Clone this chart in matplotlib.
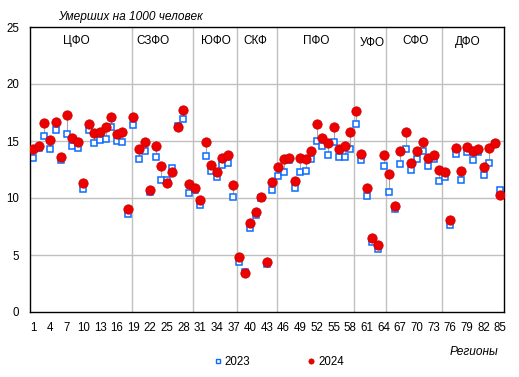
import matplotlib
matplotlib.use("Agg")
import matplotlib.pyplot as plt
from matplotlib.lines import Line2D
import numpy as np

plt.rcParams['font.family'] = ['Liberation Sans', 'DejaVu Sans']

regions = list(range(1, 86))
v2023 = [13.5, 14.4, 15.4, 14.3, 16.0, 13.3, 15.6, 14.6, 14.4, 10.8,
         16.0, 14.8, 15.1, 15.2, 16.2, 15.0, 14.9, 8.6, 16.4, 13.4,
         14.1, 10.5, 13.6, 11.6, 11.55, 12.6, 16.3, 16.9, 10.4, 10.7,
         9.4, 13.7, 12.4, 11.8, 12.9, 13.1, 10.1, 4.4, 3.5, 7.4,
         8.5, 10.0, 4.25, 10.7, 11.9, 12.3, 13.3, 10.85, 12.3, 12.4,
         13.4, 15.0, 14.55, 13.8, 14.9, 13.6, 13.6, 14.3, 16.5, 13.3,
         10.2, 6.1, 5.5, 12.8, 10.55, 9.0, 13.0, 14.3, 12.45, 13.4,
         14.1, 12.8, 13.4, 11.5, 11.8, 7.6, 13.9, 11.6, 14.05, 13.3,
         14.05, 12.0, 13.1, 14.7, 10.7]
v2024 = [14.3, 14.55, 16.6, 15.1, 16.7, 13.6, 17.3, 15.3, 14.9, 11.3,
         16.5, 15.7, 15.8, 16.2, 17.1, 15.6, 15.8, 9.0, 17.1, 14.3,
         14.9, 10.7, 14.55, 12.8, 11.35, 12.3, 16.25, 17.7, 11.2, 10.9,
         9.8, 14.9, 12.9, 12.3, 13.5, 13.8, 11.1, 4.8, 3.45, 7.8,
         8.8, 10.1, 4.4, 11.4, 12.75, 13.45, 13.5, 11.5, 13.5, 13.4,
         14.1, 16.5, 15.3, 14.8, 16.2, 14.3, 14.6, 15.8, 17.6, 13.9,
         10.85, 6.5, 5.9, 13.8, 12.1, 9.3, 14.1, 15.8, 13.1, 14.15,
         14.9, 13.5, 13.8, 12.45, 12.3, 8.1, 14.4, 12.4, 14.5, 14.1,
         14.3, 12.7, 14.4, 14.8, 10.3]

districts = ['ЦФО', 'СЗФО', 'ЮФО', 'СКФ', 'ПФО', 'УФО', 'СФО', 'ДФО']
district_label_x = [8.8, 22.6, 33.8, 40.9, 51.8, 61.9, 69.7, 79.2]
district_label_y = [23.75, 23.8, 23.8, 23.8, 23.8, 23.6, 23.75, 23.7]
district_bounds = [18.8, 29.8, 37.7, 44.8, 58.7, 64.5, 74.5]
xticks = list(range(1, 86, 3))
yticks = [0, 5, 10, 15, 20, 25]

fig = plt.figure(figsize=(5.19, 3.77), dpi=100)
ax = fig.add_axes([30/519, 1-312/377, (503.7-30)/519, (312-27)/377])

ax.set_xlim(0.4, 85.6)
ax.set_ylim(0, 25)

for y in yticks[1:-1]:
    ax.axhline(y, color='#c0c0c0', lw=1.0, zorder=0)
for b in district_bounds:
    ax.axvline(b, color='#c0c0c0', lw=1.0, zorder=0)

ax.vlines(regions, v2023, v2024, color='#a8a8a8', lw=0.8, zorder=1)
ax.plot(regions, v2023, ls='none', marker='s', ms=4.3, mfc='white',
        mec='#0a6cff', mew=1.1, zorder=2)
ax.plot(regions, v2024, ls='none', marker='o', ms=6.7, mfc='#ee0000',
        mec='#d00000', mew=0.6, zorder=3)

for name, xpos, ypos in zip(districts, district_label_x, district_label_y):
    ax.text(xpos, ypos, name, ha='center', va='center', fontsize=8.5, color='black')

ax.set_xticks(xticks)
ax.set_xticklabels([str(t) for t in xticks], fontsize=8.3)
ax.set_yticks(yticks)
ax.set_yticklabels([str(t) for t in yticks], fontsize=8.3)
ax.tick_params(length=0, pad=7)
ax.tick_params(axis='y', pad=8)
for s in ax.spines.values():
    s.set_color('black')
    s.set_linewidth(1.0)

fig.text(130/519, 1-17/377, 'Умерших на 1000 человек', style='italic',
         fontsize=8.6, ha='center', va='center')
fig.text(474/519, 1-352/377, 'Регионы', style='italic',
         fontsize=8.6, ha='center', va='center')

h1 = Line2D([], [], ls='none', marker='s', ms=3.2, mfc='white', mec='#0a6cff', mew=1.0)
h2 = Line2D([], [], ls='none', marker='o', ms=3.8, mfc='#ee0000', mec='#d00000', mew=0.5)
fig.legend([h1, h2], ['2023', '2024'], loc='center', bbox_to_anchor=(279/519, 1-362/377),
           ncol=2, frameon=False, fontsize=8.3, handlelength=0.6, handletextpad=0.3,
           columnspacing=5.0)

fig.savefig('out.png', dpi=100)
